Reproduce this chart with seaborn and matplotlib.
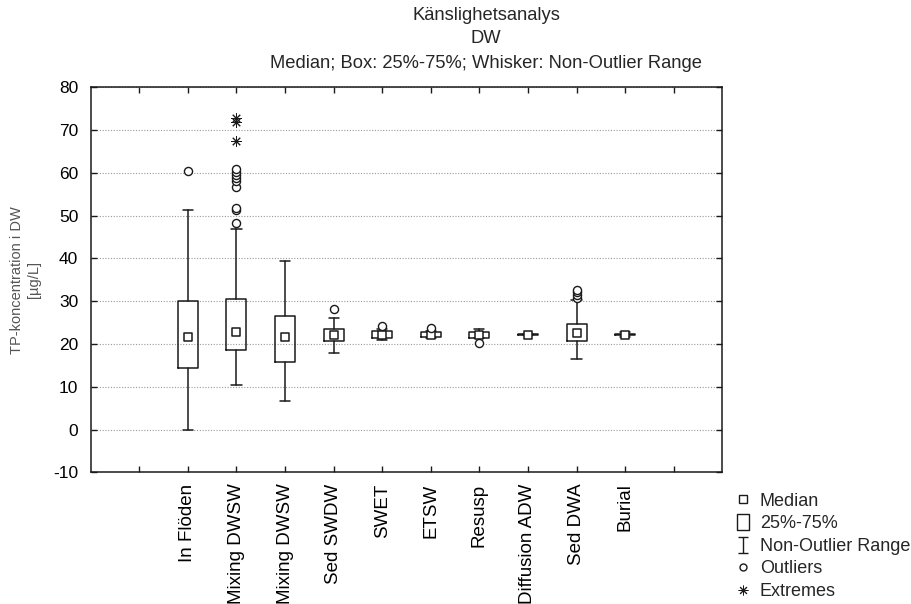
import matplotlib
matplotlib.use("Agg")
import matplotlib.pyplot as plt
from matplotlib.path import Path
from matplotlib.lines import Line2D
import seaborn as sns

# Box statistics per scenario (TP concentration in DW, µg/L)
categories = ["In Flöden", "Mixing DWSW", "Mixing DWSW", "Sed SWDW", "SWET",
              "ETSW", "Resusp", "Diffusion ADW", "Sed DWA", "Burial"]
whisker_low = [0.0, 10.5, 6.6, 18.0, 21.0, 21.3, 21.4, 22.1, 16.4, 21.6]
q1 = [14.4, 18.7, 15.8, 20.8, 21.5, 21.6, 21.5, 22.1, 20.8, 22.1]
median = [21.6, 22.9, 21.6, 22.2, 22.2, 22.0, 22.2, 22.2, 22.6, 22.2]
q3 = [30.1, 30.4, 26.5, 23.6, 23.0, 22.7, 22.8, 22.3, 24.6, 22.3]
whisker_high = [51.3, 46.8, 39.4, 26.1, 23.5, 23.1, 23.6, 22.3, 30.2, 22.8]

# Outliers and extremes: index into categories, value
outlier_idx = [0, 1, 1, 1, 1, 1, 1, 1, 1, 1, 3, 4, 5, 6, 8, 8, 8, 8]
outlier_val = [60.4, 48.2, 51.4, 51.9, 56.8, 58.0, 58.8, 59.5, 60.2, 61.0,
               28.1, 24.2, 23.8, 20.3, 30.7, 31.4, 32.1, 32.7]
extreme_idx = [1, 1, 1]
extreme_val = [67.4, 71.9, 72.8]

yticks = list(range(-10, 81, 10))

sns.set_style("ticks")
plt.rcParams["font.family"] = ["Liberation Sans", "DejaVu Sans"]
ink = "#1a1a1a"

fig = plt.figure(figsize=(9.12, 6.04), dpi=100)
ax = fig.add_axes([90.7 / 912, 1 - 472.3 / 604, (722.3 - 90.7) / 912, (472.3 - 87.3) / 604])

pos = [i + 2 for i in range(len(categories))]
stats = [dict(med=m, q1=a, q3=b, whislo=lo, whishi=hi, fliers=[])
         for m, a, b, lo, hi in zip(median, q1, q3, whisker_low, whisker_high)]
line_kw = dict(color=ink, linewidth=1.1)
ax.bxp(stats, positions=pos, widths=0.41, capwidths=0.21, showfliers=False,
       boxprops=line_kw, whiskerprops=line_kw, capprops=line_kw,
       medianprops=dict(linewidth=0), manage_ticks=False, zorder=2)

sns.scatterplot(x=pos, y=median, marker="s", s=40, facecolor="white",
                edgecolor=ink, linewidth=1.1, ax=ax, zorder=3)
sns.scatterplot(x=[pos[i] for i in outlier_idx], y=outlier_val, marker="o", s=34,
                facecolor="white", edgecolor=ink, linewidth=1.0, ax=ax, zorder=4)
ax.plot([pos[i] for i in extreme_idx], extreme_val, ls="none", marker=(8, 2, 0),
        ms=7.5, mew=0.7, color=ink, zorder=4)

ax.set_xlim(0, 13)
ax.set_ylim(-10, 80)
ax.set_xticks(range(1, 13))
ax.set_xticklabels([""] + categories + [""], rotation=90, fontsize=13.5)
ax.set_yticks(yticks)
ax.set_yticklabels([str(v) for v in yticks], fontsize=12.5)
ax.tick_params(direction="in", length=4, width=1.0, color=ink, top=True, right=True,
               labelcolor="black")
ax.tick_params(axis="x", pad=8)
ax.tick_params(axis="y", pad=9)
for sp in ax.spines.values():
    sp.set_color(ink)
    sp.set_linewidth(1.1)
ax.yaxis.grid(True, color="#9a9a9a", linestyle=(0, (1, 1.5)), linewidth=0.8)
ax.set_axisbelow(True)
ax.set_ylabel("TP-koncentration i DW\n[µg/L]", fontsize=10.5, color="#555555",
              labelpad=9)

title_kw = dict(ha="center", va="center", fontsize=13.2)
fig.text(486 / 912, 1 - 16 / 604, "Känslighetsanalys", **title_kw)
fig.text(486 / 912, 1 - 38.5 / 604, "DW", **title_kw)
fig.text(486 / 912, 1 - 63.5 / 604, "Median; Box: 25%-75%; Whisker: Non-Outlier Range",
         **title_kw)

# Legend symbols
box_marker = Path([(-0.33, -0.5), (0.33, -0.5), (0.33, 0.5), (-0.33, 0.5), (-0.33, -0.5)],
                  [Path.MOVETO, Path.LINETO, Path.LINETO, Path.LINETO, Path.CLOSEPOLY])
range_marker = Path([(-0.3, 0.5), (0.3, 0.5), (0, 0.5), (0, -0.5), (-0.3, -0.5), (0.3, -0.5)],
                    [Path.MOVETO, Path.LINETO, Path.MOVETO, Path.LINETO, Path.MOVETO, Path.LINETO])
handles = [
    Line2D([], [], ls="none", marker="s", ms=5.5, mfc="white", mec=ink, mew=1.0),
    Line2D([], [], ls="none", marker=box_marker, ms=12, mfc="white", mec=ink, mew=1.0),
    Line2D([], [], ls="none", marker=range_marker, ms=12, color=ink, mew=1.0),
    Line2D([], [], ls="none", marker="o", ms=5, mfc="white", mec=ink, mew=1.0),
    Line2D([], [], ls="none", marker=(8, 2, 0), ms=7, color=ink, mew=0.7),
]
labels = ["Median", "25%-75%", "Non-Outlier Range", "Outliers", "Extremes"]
fig.legend(handles, labels, loc="upper left", bbox_to_anchor=(734 / 912, 1 - 492.7 / 604),
           frameon=False, fontsize=13, handlelength=1.0, handletextpad=0.44,
           labelspacing=0.31, borderpad=0, borderaxespad=0)

fig.savefig("out.png", dpi=100)
